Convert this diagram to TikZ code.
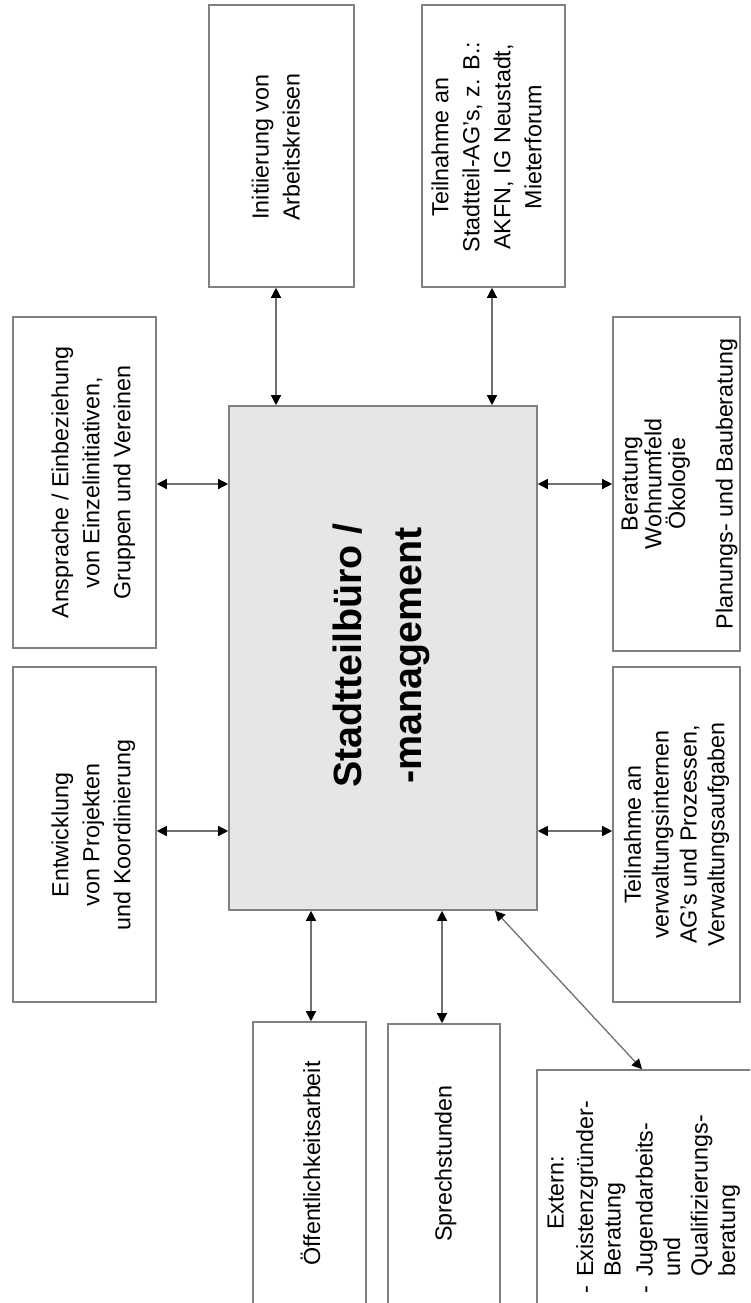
\documentclass[tikz,border=0pt]{standalone}
\usepackage{fontspec}
\setmainfont{Liberation Sans}
\usetikzlibrary{arrows.meta}
\definecolor{boxline}{HTML}{808080}
\definecolor{mainfill}{HTML}{E6E6E6}
\definecolor{arrline}{HTML}{707070}
\tikzset{
  box/.style={draw=boxline, line width=1.6pt, fill=white, rectangle, inner sep=0pt},
  vt/.style={rotate=90, align=center, inner sep=0pt, font=\fontsize{23.3}{31}\selectfont},
  dbl/.style={draw=arrline, line width=1.3pt, {Triangle[length=10pt,width=10pt,color=black]}-{Triangle[length=10pt,width=10pt,color=black]}}
}
\begin{document}
\begin{tikzpicture}[x=1pt,y=-1pt]
\fill[white] (0,0) rectangle (750,1303);
\begin{scope}
\clip (0,0) rectangle (750,1303);
% boxes
\node[box, minimum width=145pt, minimum height=282pt] (ini) at (281.5,146) {};
\node[box, minimum width=143pt, minimum height=282pt] (stag) at (493.5,146) {};
\node[box, minimum width=143pt, minimum height=331pt] (ansp) at (84.5,482.5) {};
\node[box, minimum width=143pt, minimum height=335pt] (entw) at (84.5,834.5) {};
\node[box, minimum width=127pt, minimum height=334pt] (berat) at (676.5,484) {};
\node[box, minimum width=127pt, minimum height=335pt] (verw) at (676.5,834.5) {};
\node[box, fill=mainfill, minimum width=308pt, minimum height=504pt] (main) at (383,658) {};
\node[box, minimum width=113pt, minimum height=290pt] (oeff) at (309.5,1167) {};
\node[box, minimum width=112pt, minimum height=290pt] (sprech) at (444,1169) {};
\node[box, minimum width=263pt, minimum height=280pt] (ext) at (668.5,1210) {};
% texts
\node[vt] (ini-t) at (275.8,147) {Initiierung von\\Arbeitskreisen};
\node[vt] (stag-t) at (486.5,147) {Teilnahme an\\Stadtteil-AG's, z. B.:\\AKFN, IG Neustadt,\\Mieterforum};
\node[vt] (ansp-t) at (93.3,482.5) {Ansprache / Einbeziehung\\von Einzelinitiativen,\\Gruppen und Vereinen};
\node[vt] (entw-t) at (93.3,835) {Entwicklung\\von Projekten\\und Koordinierung};
\node[vt, font=\fontsize{23.3}{23.75}\selectfont] (berat-t) at (679.5,484) {Beratung\\Wohnumfeld\\Ökologie\\[23.75pt]Planungs- und Bauberatung};
\node[vt, font=\fontsize{23.3}{27.8}\selectfont] (verw-t) at (676.6,834.5) {Teilnahme an\\verwaltungsinternen\\AG's und Prozessen,\\Verwaltungsaufgaben};
\node[vt] (oeff-t) at (310.5,1163.5) {Öffentlichkeitsarbeit};
\node[vt] (sprech-t) at (445.5,1163.5) {Sprechstunden};
\node[vt, font=\fontsize{39.4}{60}\selectfont\bfseries] (main-t) at (381.7,655.5) {Stadtteilbüro /\\-management};
\node[rotate=90, anchor=north west, align=left, inner sep=0pt, font=\fontsize{23.3}{27.5}\selectfont] (ext-t) at (547.3,1294) {\hspace*{64pt}Extern:\\[2pt]\makebox[17pt][l]{-}Existenzgründer-\\\hspace*{17pt}Beratung\\[4.5pt]\makebox[17pt][l]{-}Jugendarbeits-\\\hspace*{17pt}und\\\hspace*{17pt}Qualifizierungs-\\\hspace*{17pt}beratung};
% connectors
\coordinate (a1) at ([xshift=-5.5pt]ini.south);
\draw[dbl] (a1) -- (a1 |- main.north);
\coordinate (a2) at ([xshift=-1.5pt]stag.south);
\draw[dbl] (a2) -- (a2 |- main.north);
\coordinate (a3) at ([yshift=-1.5pt]ansp.east);
\draw[dbl] (a3) -- (a3 -| main.west);
\coordinate (a4) at ([yshift=3.5pt]entw.east);
\draw[dbl] (a4) -- (a4 -| main.west);
\coordinate (a5) at (berat.west);
\draw[dbl] (a5 -| main.east) -- (a5);
\coordinate (a6) at ([yshift=3.5pt]verw.west);
\draw[dbl] (a6 -| main.east) -- (a6);
\coordinate (a7) at ([xshift=1.5pt]oeff.north);
\draw[dbl] (a7 |- main.south) -- (a7);
\coordinate (a8) at ([xshift=-2pt]sprech.north);
\draw[dbl] (a8 |- main.south) -- (a8);
\coordinate (a9) at ([xshift=112pt]main.south);
\coordinate (a10) at ([xshift=-26.5pt]ext.north);
\draw[dbl] (a9) -- (a10);
\end{scope}
\pgfresetboundingbox
\useasboundingbox (0,0) rectangle (750,1303);
\end{tikzpicture}
\end{document}
